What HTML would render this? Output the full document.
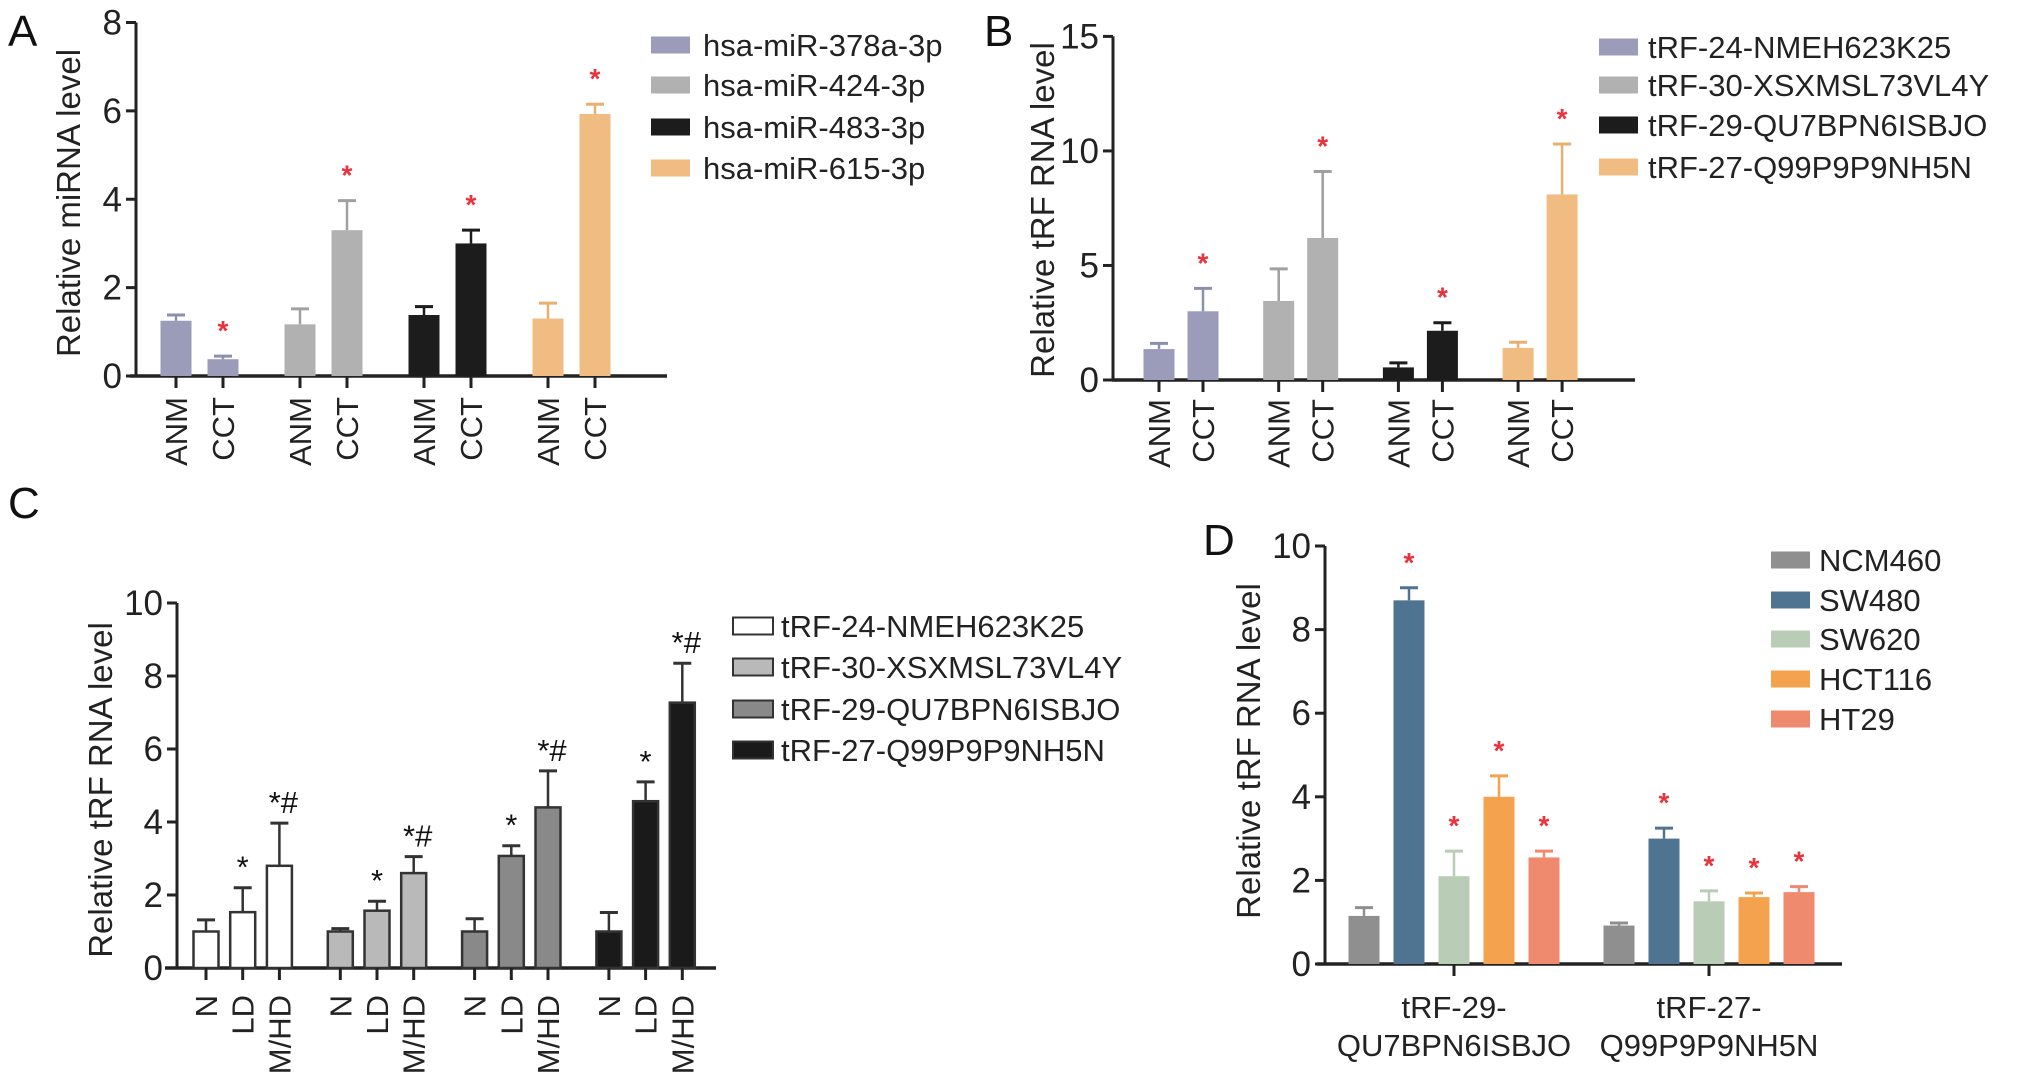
<!DOCTYPE html>
<html><head><meta charset="utf-8"><style>
html,body{margin:0;padding:0;background:#fff;}
svg{display:block;font-family:"Liberation Sans",Arial,sans-serif;}
</style></head><body>
<svg id="fig" width="2032" height="1088" viewBox="0 0 2032 1088" xmlns="http://www.w3.org/2000/svg"></svg>
<script>
// ---- Panel A data ----
const aCats = ["ANM","CCT","ANM","CCT","ANM","CCT","ANM","CCT"];
const aVals = [1.25,0.38,1.17,3.3,1.38,3.0,1.3,5.93];
const aErrs = [1.38,0.45,1.52,3.97,1.57,3.3,1.65,6.15];
const aTicks = [0,2,4,6,8];
const aLegend = ["hsa-miR-378a-3p","hsa-miR-424-3p","hsa-miR-483-3p","hsa-miR-615-3p"];
// ---- Panel B data ----
const bCats = ["ANM","CCT","ANM","CCT","ANM","CCT","ANM","CCT"];
const bVals = [1.35,3.0,3.45,6.2,0.55,2.15,1.4,8.1];
const bErrs = [1.6,4.0,4.85,9.1,0.75,2.5,1.65,10.3];
const bTicks = [0,5,10,15];
const bLegend = ["tRF-24-NMEH623K25","tRF-30-XSXMSL73VL4Y","tRF-29-QU7BPN6ISBJO","tRF-27-Q99P9P9NH5N"];
// ---- Panel C data ----
const cCats = ["N","LD","M/HD","N","LD","M/HD","N","LD","M/HD","N","LD","M/HD"];
const cVals = [1.0,1.53,2.8,1.0,1.57,2.6,1.0,3.07,4.4,1.0,4.57,7.27];
const cErrs = [1.32,2.2,3.97,1.08,1.83,3.05,1.35,3.35,5.4,1.52,5.1,8.35];
const cMarks = ["","*","*#","","*","*#","","*","*#","","*","*#"];
const cTicks = [0,2,4,6,8,10];
const cLegend = ["tRF-24-NMEH623K25","tRF-30-XSXMSL73VL4Y","tRF-29-QU7BPN6ISBJO","tRF-27-Q99P9P9NH5N"];
// ---- Panel D data ----
const dGroups = [["tRF-29-","QU7BPN6ISBJO"],["tRF-27-","Q99P9P9NH5N"]];
const dVals = [1.15,8.7,2.1,4.0,2.55, 0.92,3.0,1.5,1.6,1.72];
const dErrs = [1.35,9.0,2.7,4.5,2.7, 0.98,3.25,1.75,1.7,1.85];
const dStars = [false,true,true,true,true,false,true,true,true,true];
const dTicks = [0,2,4,6,8,10];
const dLegend = ["NCM460","SW480","SW620","HCT116","HT29"];

const svg = document.getElementById('fig');
const NS = "http://www.w3.org/2000/svg";
function mk(tag, at, parent){ const e=document.createElementNS(NS,tag); for(const k in at) e.setAttribute(k,at[k]); (parent||svg).appendChild(e); return e; }
function txt(s, at, parent){ const e=mk('text',at,parent); e.textContent=s; return e; }

function yScale(y0,y1,max){ return v => y0 - (y0-y1)*v/max; }

function axes(g, ax){
  const y = ax.y;
  const yl = mk('line',{x1:ax.x,y1:y(0)+1.5,x2:ax.x,y2:y(ax.max),stroke:'#222','stroke-width':3},g);
   
  const xl = mk('line',{x1:ax.xl,y1:y(0),x2:ax.xr,y2:y(0),stroke:'#222','stroke-width':3.5},g);
   
  ax.ticks.forEach(t=>{
    const tl=mk('line',{x1:ax.x-10,y1:y(t),x2:ax.x,y2:y(t),stroke:'#222','stroke-width':3},g);
     
    const tt=txt(String(t),{x:ax.x-14,y:y(t)+12,'font-size':35,'text-anchor':'end',fill:'#222'},g);
     
  });
  const tt=txt(ax.title,{x:ax.tx,y:ax.ty,'font-size':33,'text-anchor':'middle',fill:'#222',transform:`rotate(-90 ${ax.tx} ${ax.ty})`},g);
   
}

function bar(g, cx, w, v, e, y, fill, ecol, stroke){
  const r=mk('rect',{x:cx-w/2,y:y(v),width:w,height:y(0)-y(v),fill:fill},g);
  if(stroke){ r.setAttribute('stroke',stroke); r.setAttribute('stroke-width',2.5); }
   
  const el=mk('line',{x1:cx,y1:y(v),x2:cx,y2:y(e),stroke:ecol,'stroke-width':2.5},g);
   
  const ec=mk('line',{x1:cx-9,y1:y(e),x2:cx+9,y2:y(e),stroke:ecol,'stroke-width':3},g);
   
}
function star(g,cx,yy){
  const s=txt('*',{x:cx,y:yy+6,'font-size':28,'text-anchor':'middle',fill:'#e8323c','font-weight':'bold'},g);
   
}
function legend(g, items, colors, sx, tx, ys, sw, sh, stroke){
  items.forEach((name,i)=>{
    const r=mk('rect',{x:sx,y:ys[i]-sh/2,width:sw,height:sh,fill:colors[i]},g);
    if(stroke){ r.setAttribute('stroke',stroke); r.setAttribute('stroke-width',2); }
     
    const t=txt(name,{x:tx,y:ys[i]+11,'font-size':31,fill:'#222'},g);
     
  });
}
function panelLabel(s,x,y){
  const t=txt(s,{x:x,y:y,'font-size':44,fill:'#111'});
   
}
function rotLabel(g,s,x,ytop){
  const t=txt(s,{x:x+11,y:ytop,'font-size':31,'text-anchor':'end',fill:'#222',transform:`rotate(-90 ${x+11} ${ytop})`},g);
   
}

// ===== Panel A =====
(function(){
  const g=mk('g',{});  
  const y=yScale(376,22.5,8);
  const cols=['#9a9cb9','#b1b1b1','#1c1c1c','#f0bc82'];
  const ecols=['#8c8fae','#a0a0a0','#1c1c1c','#e8b070'];
  axes(g,{x:136,xl:130,xr:667,y:y,max:8,ticks:aTicks,title:'Relative miRNA level',tx:80,ty:203});
  const x0=176, gap=47, gstep=124;
  aVals.forEach((v,i)=>{
    const cx=x0+Math.floor(i/2)*gstep+(i%2)*gap; const c=Math.floor(i/2);
    bar(g,cx,31,v,aErrs[i],y,cols[c],ecols[c]);
    if(i%2===1) star(g,cx,y(aErrs[i])-22);
    const tk=mk('line',{x1:cx,y1:y(0),x2:cx,y2:y(0)+12,stroke:'#222','stroke-width':3},g);
     
    rotLabel(g,aCats[i],cx,397);
  });
  legend(g,aLegend,cols,651,703,[45,85,127,168],39,17);
})();
panelLabel('A',8,46);

// ===== Panel B =====
(function(){
  const g=mk('g',{});  
  const y=yScale(380,36.4,15);
  const cols=['#9a9cb9','#b1b1b1','#1c1c1c','#f0bc82'];
  const ecols=['#8c8fae','#a0a0a0','#1c1c1c','#e8b070'];
  axes(g,{x:1113,xl:1112,xr:1635,y:y,max:15,ticks:bTicks,title:'Relative tRF RNA level',tx:1054,ty:210});
  const x0=1159, gap=44, gstep=119.7;
  bVals.forEach((v,i)=>{
    const cx=x0+Math.floor(i/2)*gstep+(i%2)*gap; const c=Math.floor(i/2);
    bar(g,cx,31,v,bErrs[i],y,cols[c],ecols[c]);
    if(i%2===1) star(g,cx,y(bErrs[i])-22);
    const tk=mk('line',{x1:cx,y1:y(0),x2:cx,y2:y(0)+12,stroke:'#222','stroke-width':3},g);
     
    rotLabel(g,bCats[i],cx,399);
  });
  legend(g,bLegend,cols,1599,1648,[47,85,125,167],39,17);
})();
panelLabel('B',984,46);

// ===== Panel C =====
(function(){
  const g=mk('g',{});  
  const y=yScale(968,603,10);
  const cols=['#ffffff','#b9b9b9','#898989','#1a1a1a'];
  axes(g,{x:177,xl:165,xr:716,y:y,max:10,ticks:cTicks,title:'Relative tRF RNA level',tx:112,ty:790});
  const x0=206, gap=36.7, gstep=134.3;
  cVals.forEach((v,i)=>{
    const c=Math.floor(i/3); const cx=x0+c*gstep+(i%3)*gap;
    bar(g,cx,25,v,cErrs[i],y,cols[c],'#333','#333');
    if(cMarks[i]){ const t=txt(cMarks[i],{x:cx+(cMarks[i].length>1?4:0),y:y(cErrs[i])-10,'font-size':31,'text-anchor':'middle',fill:'#111'},g);
        }
    const tk=mk('line',{x1:cx,y1:y(0),x2:cx,y2:y(0)+12,stroke:'#222','stroke-width':3},g);
     
    rotLabel(g,cCats[i],cx,995);
  });
  legend(g,cLegend,cols,733,781,[626,667,709,750],40,17,'#333');
})();
panelLabel('C',8,518);

// ===== Panel D =====
(function(){
  const g=mk('g',{});  
  const y=yScale(964,546,10);
  const cols=['#8f8f8f','#4f7491','#b9ccb5','#f4a24d','#f08a6f'];
  const ecols=['#8f8f8f','#4f7491','#b9ccb5','#f4a24d','#f08a6f'];
  axes(g,{x:1325,xl:1317,xr:1842,y:y,max:10,ticks:dTicks,title:'Relative tRF RNA level',tx:1260,ty:751});
  const x0=1364, gap=45, gstep=255;
  dVals.forEach((v,i)=>{
    const gi=Math.floor(i/5), k=i%5; const cx=x0+gi*gstep+k*gap;
    bar(g,cx,31,v,dErrs[i],y,cols[k],ecols[k]);
    if(dStars[i]) star(g,cx,y(dErrs[i])-22);
  });
  dGroups.forEach((lines,gi)=>{
    const cx=x0+gi*gstep+2*gap;
    const tk=mk('line',{x1:cx,y1:y(0),x2:cx,y2:y(0)+12,stroke:'#222','stroke-width':3},g);
     
    lines.forEach((s,li)=>{
      const t=txt(s,{x:cx,y:1018+li*38,'font-size':31,'text-anchor':'middle',fill:'#222'},g);
       
    });
  });
  legend(g,dLegend,cols,1771,1819,[560,600,639,679,719],39,17);
})();
panelLabel('D',1203,555);
</script>
</body></html>
